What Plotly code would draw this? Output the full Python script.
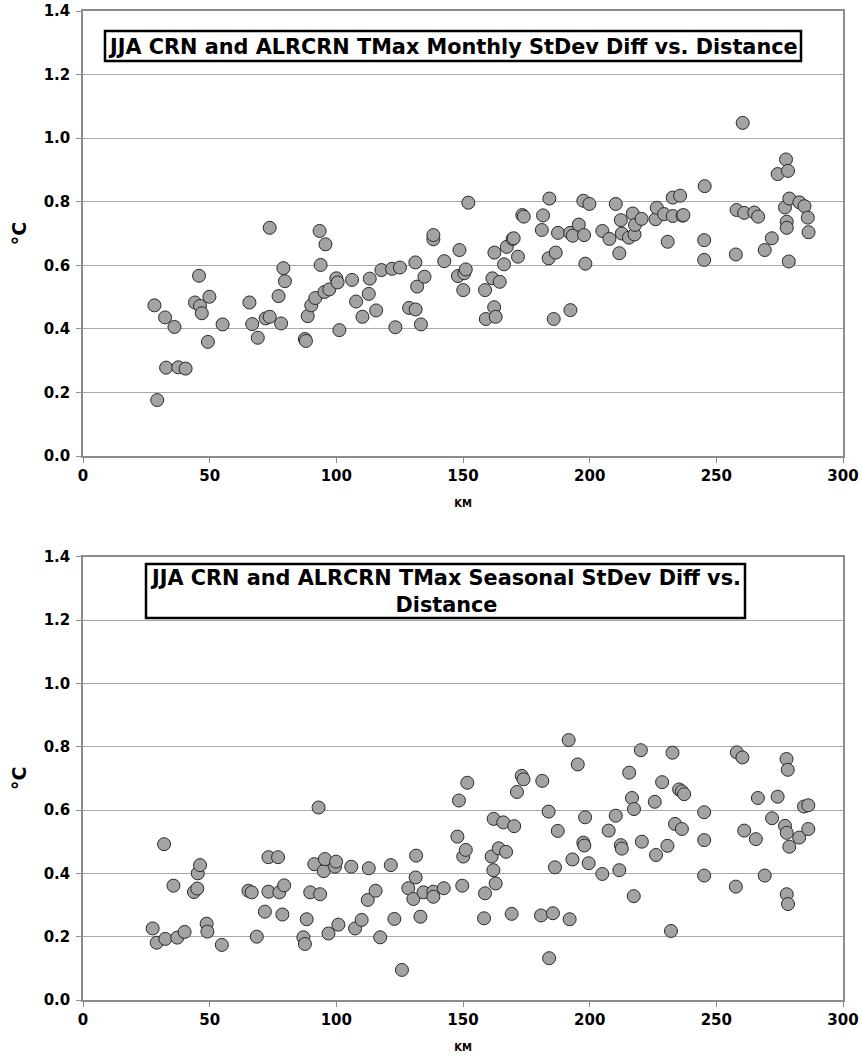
import plotly.graph_objects as go

# ---- Data: monthly (top) ----
monthly_km = [28.2, 29.3, 32.4, 32.8, 36.1, 37.6, 40.5, 44.2, 45.8, 46.2, 46.9, 49.3, 49.9, 55.1,
              65.7, 66.8, 69.0, 72.1, 73.7, 73.7, 77.2, 78.2, 79.1, 79.7, 87.6, 88.0, 88.7, 90.1,
              91.7, 93.4, 93.8, 95.3, 95.7, 97.2, 100.0, 100.5, 101.2, 106.2, 107.8, 110.3, 112.8,
              113.2, 115.7, 117.8, 122.0, 123.3, 125.1, 128.7, 131.3, 131.9, 131.2, 133.4, 134.8,
              138.3, 138.3, 142.6, 148.0, 148.6, 150.1, 150.5, 151.1, 152.1, 158.7, 159.0, 161.6,
              162.3, 162.4, 162.9, 164.5, 166.2, 167.3, 169.6, 170.0, 171.7, 173.4, 174.0, 181.1,
              181.6, 183.8, 184.1, 185.8, 186.6, 187.5, 192.3, 192.4, 193.3, 195.7, 197.5, 197.8,
              198.3, 199.9, 205.0, 207.8, 210.3, 211.7, 212.3, 212.7, 215.5, 217.0, 217.7, 217.9,
              220.5, 226.0, 226.5, 229.4, 230.8, 232.8, 232.8, 235.7, 236.7, 237.0, 245.2, 245.2,
              245.4, 257.7, 258.0, 260.4, 261.0, 265.0, 266.5, 269.1, 271.9, 274.2, 277.1, 277.5,
              277.8, 277.8, 278.3, 278.6, 278.8, 282.8, 284.8, 286.1, 286.4]
monthly_val = [0.474, 0.176, 0.436, 0.278, 0.406, 0.279, 0.275, 0.483, 0.567, 0.472, 0.449, 0.359,
               0.501, 0.414, 0.483, 0.415, 0.372, 0.433, 0.438, 0.718, 0.503, 0.417, 0.591, 0.550,
               0.368, 0.362, 0.440, 0.474, 0.497, 0.708, 0.601, 0.516, 0.666, 0.524, 0.559, 0.546,
               0.396, 0.554, 0.486, 0.438, 0.510, 0.558, 0.458, 0.585, 0.589, 0.405, 0.593, 0.466,
               0.461, 0.533, 0.609, 0.414, 0.564, 0.682, 0.695, 0.613, 0.566, 0.648, 0.522, 0.575,
               0.587, 0.797, 0.522, 0.431, 0.559, 0.468, 0.640, 0.438, 0.548, 0.603, 0.658, 0.683,
               0.685, 0.627, 0.758, 0.753, 0.711, 0.757, 0.622, 0.810, 0.431, 0.640, 0.702, 0.702,
               0.459, 0.693, 0.728, 0.803, 0.695, 0.605, 0.793, 0.708, 0.683, 0.793, 0.638, 0.742,
               0.700, 0.687, 0.763, 0.697, 0.727, 0.746, 0.745, 0.781, 0.761, 0.674, 0.813, 0.755,
               0.819, 0.756, 0.758, 0.679, 0.617, 0.849, 0.634, 0.774, 1.048, 0.765, 0.766, 0.753,
               0.648, 0.685, 0.887, 0.782, 0.933, 0.737, 0.718, 0.897, 0.612, 0.810, 0.798, 0.786,
               0.750, 0.704]

# ---- Data: seasonal (bottom) ----
seasonal_km = [27.5, 29.1, 32.0, 32.5, 35.7, 37.2, 40.1, 43.8, 45.1, 45.3, 46.2, 48.8, 49.1, 54.8,
               65.3, 66.6, 68.6, 71.8, 73.2, 73.2, 77.0, 77.5, 78.7, 79.4, 87.0, 87.6, 88.3, 89.7,
               91.3, 93.0, 93.6, 95.0, 95.5, 96.9, 99.5, 99.9, 100.8, 105.9, 107.4, 110.0, 112.4,
               112.8, 115.5, 117.3, 121.5, 122.9, 125.9, 128.4, 130.4, 131.3, 131.5, 133.2, 134.4,
               138.3, 138.3, 142.4, 147.8, 148.4, 149.7, 150.1, 151.1, 151.7, 158.3, 158.7, 161.3,
               162.0, 162.1, 162.9, 164.1, 165.9, 167.0, 169.2, 170.2, 171.3, 173.2, 173.9, 180.8,
               181.3, 183.8, 184.0, 185.5, 186.3, 187.4, 191.7, 192.1, 193.2, 195.3, 197.5, 197.9,
               198.2, 199.6, 205.0, 207.5, 210.3, 211.7, 212.3, 212.7, 215.6, 216.7, 217.4, 217.5,
               220.2, 220.6, 225.7, 226.2, 228.6, 230.7, 232.1, 232.7, 233.7, 235.3, 236.4, 236.4,
               237.3, 245.2, 245.2, 245.2, 257.7, 258.1, 260.3, 261.0, 265.6, 266.4, 269.1, 272.0,
               274.2, 277.1, 277.7, 277.8, 277.8, 278.2, 278.3, 278.8, 282.7, 284.6, 286.3, 286.3]
seasonal_val = [0.226, 0.181, 0.492, 0.193, 0.361, 0.197, 0.215, 0.341, 0.352, 0.400, 0.426, 0.241,
                0.216, 0.174, 0.345, 0.340, 0.200, 0.279, 0.451, 0.342, 0.451, 0.340, 0.270, 0.362,
                0.198, 0.177, 0.255, 0.340, 0.429, 0.608, 0.334, 0.407, 0.445, 0.210, 0.421, 0.437,
                0.238, 0.421, 0.226, 0.253, 0.316, 0.416, 0.345, 0.198, 0.426, 0.256, 0.095, 0.353,
                0.319, 0.387, 0.456, 0.263, 0.340, 0.342, 0.326, 0.353, 0.516, 0.630, 0.361, 0.453,
                0.474, 0.686, 0.258, 0.337, 0.453, 0.410, 0.572, 0.368, 0.479, 0.561, 0.468, 0.272,
                0.549, 0.657, 0.708, 0.697, 0.267, 0.692, 0.595, 0.132, 0.274, 0.419, 0.534, 0.821,
                0.255, 0.444, 0.744, 0.497, 0.488, 0.577, 0.432, 0.398, 0.535, 0.582, 0.410, 0.489,
                0.478, 0.718, 0.638, 0.328, 0.603, 0.789, 0.500, 0.626, 0.458, 0.688, 0.487, 0.218,
                0.781, 0.556, 0.665, 0.659, 0.540, 0.650, 0.593, 0.505, 0.393, 0.358, 0.782, 0.766,
                0.535, 0.508, 0.638, 0.393, 0.574, 0.642, 0.550, 0.761, 0.528, 0.334, 0.727, 0.303,
                0.484, 0.513, 0.611, 0.615, 0.540]

x_ticks = [0, 50, 100, 150, 200, 250, 300]
y_ticks = [0.0, 0.2, 0.4, 0.6, 0.8, 1.0, 1.2, 1.4]
title_top = "JJA CRN and ALRCRN TMax Monthly StDev Diff vs. Distance"
title_bottom = "JJA CRN and ALRCRN TMax Seasonal StDev Diff vs.<br>Distance"

W, H = 863, 1058
FONT = "DejaVu Sans"
marker = dict(size=13, color="#a3a3a3", line=dict(color="#2a2a2a", width=1))


def px_x(p):
    return p / W


def px_y(p):
    return 1 - p / H


fig = go.Figure()
fig.add_trace(go.Scatter(x=monthly_km, y=monthly_val, mode="markers", marker=marker,
                         xaxis="x", yaxis="y", showlegend=False, cliponaxis=False))
fig.add_trace(go.Scatter(x=seasonal_km, y=seasonal_val, mode="markers", marker=marker,
                         xaxis="x2", yaxis="y2", showlegend=False, cliponaxis=False))

xdom = [px_x(83), px_x(843)]


def xax(anchor):
    return dict(domain=xdom, range=[0, 300], tickvals=x_ticks, anchor=anchor, automargin=False,
                showgrid=False, zeroline=False, showline=True, linecolor="#8c8c8c",
                linewidth=1.5, mirror=True, ticks="outside", ticklen=5, tickcolor="#8c8c8c",
                ticklabeloverflow="allow",
                tickfont=dict(family=FONT, size=15, color="black", weight="bold"),
                title=dict(text="KM", standoff=16,
                           font=dict(family=FONT, size=10, color="black", weight="bold")))


def yax(dom, anchor):
    return dict(domain=dom, range=[0, 1.4], tickvals=y_ticks, tickformat=".1f", anchor=anchor,
                automargin=False, ticklabeloverflow="allow",
                showgrid=True, gridcolor="#a8a8a8", gridwidth=1.2, zeroline=False,
                showline=True, linecolor="#8c8c8c", linewidth=1.5, mirror=True,
                ticks="outside", ticklen=5, tickcolor="#8c8c8c", ticklabelstandoff=3,
                tickfont=dict(family=FONT, size=15, color="black", weight="bold"),
                title=dict(text="°C", standoff=12,
                           font=dict(family=FONT, size=19, color="black", weight="bold")))


fig.update_layout(
    width=W, height=H, margin=dict(l=0, r=0, t=0, b=0, autoexpand=False),
    paper_bgcolor="white", plot_bgcolor="white",
    xaxis=xax("y"), yaxis=yax([px_y(456), px_y(11)], "x"),
    xaxis2=xax("y2"), yaxis2=yax([px_y(1000), px_y(556.7)], "x2"),
)

# Title boxes
fig.add_shape(type="rect", xref="paper", yref="paper",
              x0=px_x(105), x1=px_x(801), y0=px_y(61), y1=px_y(31),
              line=dict(color="black", width=2.5), fillcolor="white", layer="above")
fig.add_annotation(xref="paper", yref="paper", x=px_x(453), y=px_y(46.5), text=title_top,
                   showarrow=False, xanchor="center", yanchor="middle",
                   font=dict(family=FONT, size=20.8, color="black", weight="bold"))
fig.add_shape(type="rect", xref="paper", yref="paper",
              x0=px_x(146), x1=px_x(745), y0=px_y(618), y1=px_y(564),
              line=dict(color="black", width=2.5), fillcolor="white", layer="above")
fig.add_annotation(xref="paper", yref="paper", x=px_x(445.5), y=px_y(591.5), text=title_bottom,
                   showarrow=False, xanchor="center", yanchor="middle",
                   font=dict(family=FONT, size=20.8, color="black", weight="bold"))

# remove the page's default 8px body margin so the figure fills the window exactly
fig.write_html("out.html",
               config={"displayModeBar": False},
               post_script="document.body.style.margin='0';document.body.style.overflow='hidden';")
